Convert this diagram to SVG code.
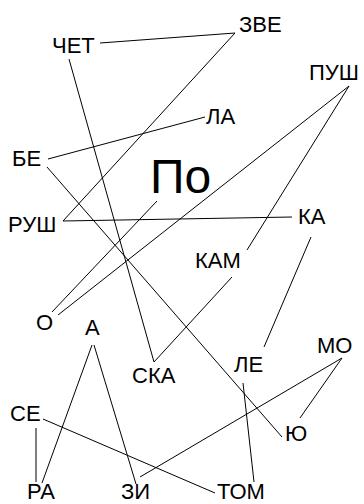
<svg xmlns="http://www.w3.org/2000/svg" width="364" height="504" viewBox="0 0 364 504">
<style>
.l{stroke:#000;stroke-width:1;fill:none}
text{font-family:"Liberation Sans",Arial,sans-serif;font-size:22px;fill:#000}
.big{font-size:48px}
</style>
<rect width="364" height="504" fill="#fff"/>
<g id="connectors">
<line class="l" x1="100" y1="43" x2="235" y2="33"/>
<line class="l" x1="235" y1="33" x2="63" y2="221"/>
<line class="l" x1="48" y1="159" x2="205" y2="117"/>
<line class="l" x1="69" y1="59" x2="154" y2="362"/>
<line class="l" x1="232" y1="277" x2="154" y2="362"/>
<line class="l" x1="47" y1="167" x2="282" y2="437"/>
<line class="l" x1="349" y1="86" x2="58" y2="315"/>
<line class="l" x1="349" y1="86" x2="247" y2="250"/>
<line class="l" x1="157" y1="201" x2="52" y2="312"/>
<line class="l" x1="63" y1="221" x2="292" y2="217"/>
<line class="l" x1="311" y1="237" x2="264" y2="347"/>
<line class="l" x1="243" y1="383" x2="254" y2="482"/>
<line class="l" x1="342" y1="358" x2="300" y2="418"/>
<line class="l" x1="342" y1="358" x2="140" y2="477"/>
<line class="l" x1="43" y1="419" x2="215" y2="493"/>
<line class="l" x1="36" y1="428" x2="36" y2="482"/>
<line class="l" x1="92" y1="345" x2="42" y2="483"/>
<line class="l" x1="94" y1="345" x2="136" y2="484"/>
</g>
<g id="n-chet"><text x="52" y="53">ЧЕТ</text></g>
<g id="n-zve"><text x="239" y="32">ЗВЕ</text></g>
<g id="n-push"><text x="309" y="80">ПУШ</text></g>
<g id="n-la"><text x="206" y="124">ЛА</text></g>
<g id="n-be"><text x="12" y="166">БЕ</text></g>
<g id="n-po"><text class="big" x="150" y="193">По</text></g>
<g id="n-rush"><text x="8" y="232">РУШ</text></g>
<g id="n-ka"><text x="298" y="224">КА</text></g>
<g id="n-kam"><text x="195" y="268">КАМ</text></g>
<g id="n-o"><text x="36" y="330">О</text></g>
<g id="n-a"><text x="85" y="335">А</text></g>
<g id="n-ska"><text x="132" y="383">СКА</text></g>
<g id="n-le"><text x="234" y="372">ЛЕ</text></g>
<g id="n-mo"><text x="317" y="353">МО</text></g>
<g id="n-yu"><text x="285" y="441">Ю</text></g>
<g id="n-se"><text x="10" y="421">СЕ</text></g>
<g id="n-ra"><text x="27" y="499">РА</text></g>
<g id="n-zi"><text x="121" y="499">ЗИ</text></g>
<g id="n-tom"><text x="217" y="499">ТОМ</text></g>
</svg>
